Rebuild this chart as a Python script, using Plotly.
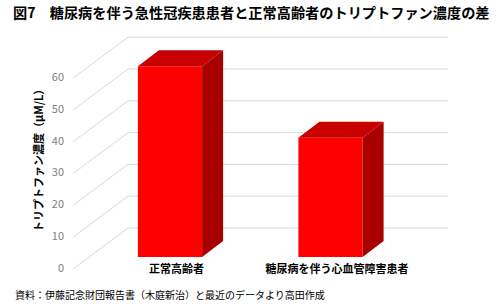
import plotly.graph_objects as go

# ---- data ----
categories = ["正常高齢者", "糖尿病を伴う心血管障害患者"]
values = [60, 37.5]
tick_values = [0, 10, 20, 30, 40, 50, 60]
tick_labels = ["0", "10", "20", "30", "40", "50", "60"]
title_text = "図7　糖尿病を伴う急性冠疾患患者と正常高齢者のトリプトファン濃度の差"
ytitle_text = "トリプトファン濃度（μM/L）"
source_text = "資料：伊藤記念財団報告書（木庭新治）と最近のデータより高田作成"

# ---- geometry (style) ----
W, H = 500, 306
PX_X = 160.5          # px per category unit
PX_V = 3.18           # px per value unit
X0_PX, V0_PX = 170, 257
xr = [-X0_PX / PX_X, (W - X0_PX) / PX_X]
yr = [(V0_PX - H) / PX_V, V0_PX / PX_V]

bar_w = 0.40
depth_dx, depth_dv = 21 / PX_X, 16 / PX_V          # bar depth
front_dx, front_dv = -16 / PX_X, -12 / PX_V        # label plane offset
back_dx, back_dv = 39 / PX_X, 29 / PX_V            # back wall offset
wall_right = (448 - X0_PX) / PX_X
label_x = (64 - X0_PX) / PX_X

font = "Noto Sans CJK JP"
grid_col = "#d9d9d9"

fig = go.Figure()

# gridlines (behind bars): back wall horizontals + diagonals
wall_left = label_x + (73 - 64) / PX_X
shapes = []
for v in tick_values:
    fx, fy = wall_left, v + front_dv
    bx, by = wall_left + (back_dx - front_dx), v + back_dv
    shapes.append(dict(type="line", xref="x", yref="y", x0=fx, y0=fy, x1=bx, y1=by,
                       line=dict(color=grid_col, width=1), layer="below"))
    shapes.append(dict(type="line", xref="x", yref="y", x0=bx, y0=by, x1=wall_right, y1=by,
                       line=dict(color=grid_col, width=1), layer="below"))

# bars: front faces
xs = list(range(len(categories)))
fig.add_trace(go.Bar(x=xs, y=values, width=bar_w, marker=dict(color="#ff0000", line=dict(width=0)),
                     showlegend=False, hoverinfo="skip"))

# top and side faces
for x, v in zip(xs, values):
    l, r = x - bar_w / 2, x + bar_w / 2
    fig.add_trace(go.Scatter(x=[l, r, r + depth_dx, l + depth_dx, l], y=[v, v, v + depth_dv, v + depth_dv, v],
                             fill="toself", fillcolor="#c80000", mode="lines",
                             line=dict(width=0, color="#c80000"), hoverinfo="skip", showlegend=False))
    fig.add_trace(go.Scatter(x=[r, r + depth_dx, r + depth_dx, r, r], y=[0, depth_dv, v + depth_dv, v, 0],
                             fill="toself", fillcolor="#a80000", mode="lines",
                             line=dict(width=0, color="#a80000"), hoverinfo="skip", showlegend=False))

# y tick labels
fig.add_trace(go.Scatter(x=[label_x] * len(tick_values), y=[v + front_dv for v in tick_values],
                         mode="text", text=tick_labels, textposition="middle left",
                         textfont=dict(family=font, size=11, color="#7f7f7f"),
                         hoverinfo="skip", showlegend=False))

# category labels
fig.add_trace(go.Scatter(x=[x + 0.04 for x in xs], y=[-4.2] * len(xs), mode="text",
                         text=["<b>" + c + "</b>" for c in categories],
                         textposition="middle center",
                         textfont=dict(family=font, size=11, color="#000000"),
                         hoverinfo="skip", showlegend=False))

fig.update_layout(
    width=W, height=H, margin=dict(l=0, r=0, t=0, b=0),
    paper_bgcolor="white", plot_bgcolor="white",
    xaxis=dict(range=xr, visible=False, fixedrange=True),
    yaxis=dict(range=yr, visible=False, fixedrange=True),
    barmode="overlay",
    shapes=shapes,
    annotations=[
        dict(text="<b>" + title_text + "</b>", x=11 / W, y=1 - 12 / H, xref="paper", yref="paper",
             xanchor="left", yanchor="middle", showarrow=False,
             font=dict(family=font, size=14.2, color="#000000")),
        dict(text="<b>" + ytitle_text + "</b>", x=38 / W, y=1 - 158 / H, xref="paper", yref="paper",
             textangle=-90, xanchor="center", yanchor="middle", showarrow=False,
             font=dict(family=font, size=11, color="#000000")),
        dict(text=source_text, x=13 / W, y=1 - 294 / H, xref="paper", yref="paper",
             xanchor="left", yanchor="middle", showarrow=False,
             font=dict(family=font, size=10, color="#000000")),
    ],
)

fig.write_html("out.html")
